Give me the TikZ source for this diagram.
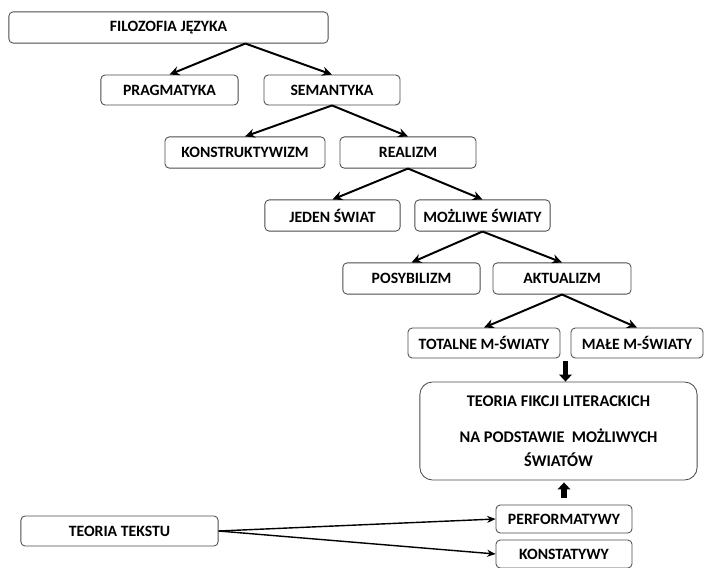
\documentclass[tikz,border=0pt]{standalone}
\usepackage{fontspec}
\setmainfont{Carlito}
\usetikzlibrary{arrows.meta, calc, positioning}

\begin{document}
\begin{tikzpicture}[x=0.025cm, y=-0.025cm,
    box/.style={draw=black!70, line width=0.6pt, rounded corners=3pt, fill=white,
                inner sep=0pt, font=\bfseries\fontsize{11.2}{13}\selectfont},
    link/.style={line width=1.4pt, -{Stealth[length=7pt,width=6.5pt]}},
    thinlink/.style={line width=1pt, -{Stealth[length=6pt,width=5pt]}},
    block/.style={line width=4pt, -{Triangle[length=5pt,width=9pt]}}]
\useasboundingbox (0,0) rectangle (704,567);
\node (filo) [box, minimum width=7.98cm, minimum height=0.78cm] at (168.5,27.5) {FILOZOFIA JĘZYKA};
\node (prag) [box, minimum width=3.43cm, minimum height=0.75cm] at (169.5,90) {PRAGMATYKA};
\node (sem) [box, minimum width=3.4cm, minimum height=0.75cm] at (332,90) {SEMANTYKA};
\node (konstr) [box, minimum width=4cm, minimum height=0.78cm] at (245,152.5) {KONSTRUKTYWIZM};
\node (real) [box, minimum width=3.4cm, minimum height=0.78cm] at (408,152.5) {REALIZM};
\node (jeden) [box, minimum width=3.38cm, minimum height=0.78cm] at (332.5,215.5) {JEDEN ŚWIAT};
\node (mozl) [box, minimum width=3.38cm, minimum height=0.78cm] at (482.5,215.5) {MOŻLIWE ŚWIATY};
\node (posyb) [box, minimum width=3.43cm, minimum height=0.78cm] at (411.5,278.5) {POSYBILIZM};
\node (akt) [box, minimum width=3.45cm, minimum height=0.78cm] at (562,278.5) {AKTUALIZM};
\node (tot) [box, minimum width=3.8cm, minimum height=0.75cm] at (484,343) {TOTALNE M-ŚWIATY};
\node (male) [box, minimum width=3.3cm, minimum height=0.75cm] at (637,343) {MAŁE M-ŚWIATY};
\node (fik) [box, rounded corners=9pt, minimum width=6.93cm, minimum height=2.45cm, align=center,
             font=\bfseries\fontsize{11.6}{17}\selectfont] at (558.5,431)
    {TEORIA FIKCJI LITERACKICH\\[8.5pt] NA PODSTAWIE\ \ MOŻLIWYCH\\ ŚWIATÓW};
\node (perf) [box, minimum width=3.4cm, minimum height=0.7cm] at (564,519) {PERFORMATYWY};
\node (konst) [box, minimum width=3.4cm, minimum height=0.7cm] at (564,554) {KONSTATYWY};
\node (tekst) [box, minimum width=4.93cm, minimum height=0.75cm] at (119.5,531) {TEORIA TEKSTU};
\coordinate (f0) at ($(filo.south west)!0.74!(filo.south east)$);
\coordinate (gap) at ($(tot.south east)!0.5!(male.south west)$);
\draw[link] (f0) -- (prag.north);
\draw[link] (f0) -- (sem.north);
\draw[link] (sem.south) -- (konstr.north);
\draw[link] (sem.south) -- (real.north);
\draw[link] (real.south) -- (jeden.north);
\draw[link] (real.south) -- (mozl.north);
\draw[link] (mozl.south) -- (posyb.north);
\draw[link] (mozl.south) -- (akt.north);
\draw[link] (akt.south) -- (tot.north);
\draw[link] (akt.south) -- (male.north);
\draw[block] ($(gap)+(0,3)$) -- (gap |- fik.north);
\draw[block] ($(perf.north)+(0,-7)$) -- ($(perf.north |- fik.south)+(0,2)$);
\draw[thinlink] (tekst.east) -- (perf.west);
\draw[thinlink] (tekst.east) -- (konst.west);
\end{tikzpicture}
\end{document}
